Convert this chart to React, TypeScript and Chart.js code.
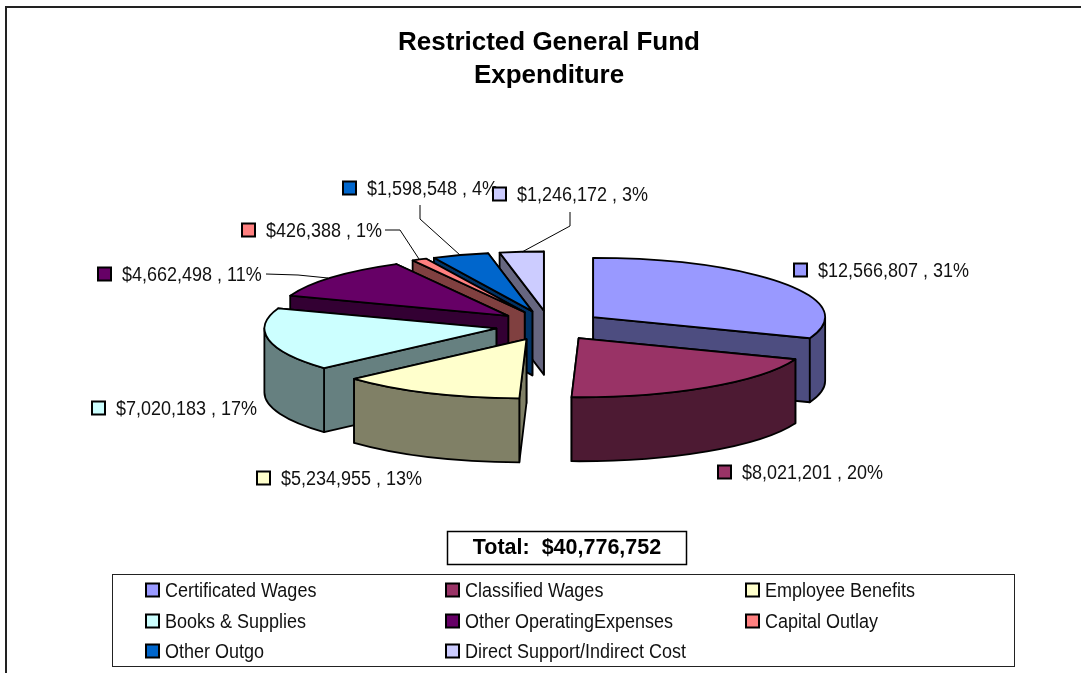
import React, { useEffect, useRef } from "react";
import { Chart, registerables } from "chart.js";

Chart.register(...registerables);

const categories = [
  "Certificated Wages",
  "Classified Wages",
  "Employee Benefits",
  "Books & Supplies",
  "Other OperatingExpenses",
  "Capital Outlay",
  "Other Outgo",
  "Direct Support/Indirect Cost",
];
const values = [12566807, 8021201, 5234955, 7020183, 4662498, 426388, 1598548, 1246172];
const dataLabels = [
  "$12,566,807 , 31%",
  "$8,021,201 , 20%",
  "$5,234,955 , 13%",
  "$7,020,183 , 17%",
  "$4,662,498 , 11%",
  "$426,388 , 1%",
  "$1,598,548 , 4%",
  "$1,246,172 , 3%",
];
const colors = ["#9999FF", "#993366", "#FFFFCC", "#CCFFFF", "#660066", "#FF8080", "#0066CC", "#CCCCFF"];
const sideColors = ["#4D4D80", "#4D1A33", "#808066", "#668080", "#330033", "#804040", "#003366", "#666680"];
const totalText = "Total:  $40,776,752";
const titleLines = ["Restricted General Fund", "Expenditure"];

const SANS = '"Liberation Sans", Arial, sans-serif';
const SQUASH = 0.255;
const DEPTH = 64;
const EXPLODE = 200;
const SHIFT_X = 0.268; // share of the arc offset moved sideways
const SHIFT_Y = 0.075; // share of the arc offset moved up and down
const CENTER_Y = 325.6;
const DRAW_ORDER = [7, 6, 5, 4, 3, 2, 0, 1];

// label anchors: swatch left x, centre y
const labelPos: [number, number][] = [
  [794, 270],
  [718, 472],
  [257, 478],
  [92, 408],
  [98, 274],
  [242, 230],
  [343, 188],
  [493, 194],
];
const leaders: number[][][] = [
  [],
  [],
  [],
  [],
  [[266, 274], [298, 275], [328, 278]],
  [[385, 230], [400, 230], [419, 259]],
  [[420, 205], [420, 219], [460, 255]],
  [[570, 212], [570, 226], [522, 252]],
];
const legendCols = [145, 445, 745];
const legendRows = [590, 621, 651];

function swatch(ctx: CanvasRenderingContext2D, x: number, cy: number, color: string) {
  ctx.fillStyle = color;
  ctx.strokeStyle = "#000";
  ctx.lineWidth = 2;
  ctx.fillRect(x, cy - 6.5, 13, 13);
  ctx.strokeRect(x, cy - 6.5, 13, 13);
}

// Arial-Narrow look: a taller face squeezed sideways to the reference's widths
function narrowText(ctx: CanvasRenderingContext2D, t: string, x: number, y: number) {
  ctx.save();
  ctx.font = `20.5px ${SANS}`;
  ctx.textAlign = "left";
  ctx.textBaseline = "middle";
  ctx.fillStyle = "#111";
  ctx.translate(x, y);
  ctx.scale(18 / 20.5, 1);
  ctx.fillText(t, 0, 0);
  ctx.restore();
}

const pie3d = {
  id: "pie3d",
  beforeDatasetDraw(chart: any, args: any) {
    const ctx: CanvasRenderingContext2D = chart.ctx;
    const arcs = chart.getDatasetMeta(args.index).data;
    ctx.save();
    ctx.lineJoin = "round";
    ctx.lineWidth = 1.8;
    ctx.strokeStyle = "#000";
    for (const i of DRAW_ORDER) {
      const a = arcs[i];
      const p = a.getProps(["x", "y", "startAngle", "endAngle", "outerRadius"], true);
      const mid = (p.startAngle + p.endAngle) / 2;
      const ax = p.x + Math.cos(mid) * a.options.offset * SHIFT_X;
      const ay = CENTER_Y + Math.sin(mid) * a.options.offset * SHIFT_Y;
      const rx = p.outerRadius;
      const ry = rx * SQUASH;
      const px = (t: number) => ax + Math.cos(t) * rx;
      const py = (t: number) => ay + Math.sin(t) * ry;
      const wall = (t: number) => {
        ctx.beginPath();
        ctx.moveTo(ax, ay);
        ctx.lineTo(px(t), py(t));
        ctx.lineTo(px(t), py(t) + DEPTH);
        ctx.lineTo(ax, ay + DEPTH);
        ctx.closePath();
        ctx.fillStyle = sideColors[i];
        ctx.fill();
        ctx.stroke();
      };
      const ordered = Math.sin(p.startAngle) < Math.sin(p.endAngle)
        ? [p.startAngle, p.endAngle]
        : [p.endAngle, p.startAngle];
      ordered.forEach(wall);
      const r0 = Math.max(p.startAngle, 0);
      const r1 = Math.min(p.endAngle, Math.PI);
      if (r1 > r0) {
        ctx.beginPath();
        ctx.ellipse(ax, ay, rx, ry, 0, r0, r1);
        ctx.ellipse(ax, ay + DEPTH, rx, ry, 0, r1, r0, true);
        ctx.closePath();
        ctx.fillStyle = sideColors[i];
        ctx.fill();
        ctx.stroke();
      }
      ctx.beginPath();
      ctx.moveTo(ax, ay);
      ctx.ellipse(ax, ay, rx, ry, 0, p.startAngle, p.endAngle);
      ctx.closePath();
      ctx.fillStyle = a.options.backgroundColor;
      ctx.fill();
      ctx.stroke();
    }
    ctx.restore();
    return false;
  },
  afterDraw(chart: any) {
    const ctx: CanvasRenderingContext2D = chart.ctx;
    ctx.save();
    // outer frame
    ctx.strokeStyle = "#222";
    ctx.lineWidth = 2;
    ctx.beginPath();
    ctx.moveTo(6, 673);
    ctx.lineTo(6, 7);
    ctx.lineTo(1081, 7);
    ctx.stroke();

    // title
    ctx.fillStyle = "#000";
    ctx.font = `bold 26px ${SANS}`;
    ctx.textAlign = "center";
    ctx.textBaseline = "middle";
    titleLines.forEach((t, i) => ctx.fillText(t, 549, 43 + i * 33));

    // leader lines
    ctx.strokeStyle = "#000";
    ctx.lineWidth = 1;
    leaders.forEach((pts) => {
      if (!pts.length) return;
      ctx.beginPath();
      pts.forEach(([x, y], k) => (k ? ctx.lineTo(x, y) : ctx.moveTo(x, y)));
      ctx.stroke();
    });

    // data labels
    dataLabels.forEach((t, i) => {
      const [x, y] = labelPos[i];
      swatch(ctx, x, y, colors[i]);
      narrowText(ctx, t, x + 24, y + 1);
    });

    // total box
    ctx.strokeStyle = "#000";
    ctx.lineWidth = 1.5;
    ctx.fillStyle = "#fff";
    ctx.fillRect(447.5, 531.5, 239, 33);
    ctx.strokeRect(447.5, 531.5, 239, 33);
    ctx.fillStyle = "#000";
    ctx.font = `bold 21.5px ${SANS}`;
    ctx.textAlign = "center";
    ctx.textBaseline = "middle";
    ctx.fillText(totalText, 567, 548);

    // legend box
    ctx.lineWidth = 1;
    ctx.strokeStyle = "#222";
    ctx.fillStyle = "#fff";
    ctx.fillRect(112.5, 574.5, 902, 92);
    ctx.strokeRect(112.5, 574.5, 902, 92);
    categories.forEach((c, i) => {
      const x = legendCols[i % 3];
      const y = legendRows[Math.floor(i / 3)];
      swatch(ctx, x + 1, y, colors[i]);
      narrowText(ctx, c, x + 20, y + 1);
    });
    ctx.restore();
  },
};

export default function App() {
  const ref = useRef<HTMLCanvasElement>(null);
  useEffect(() => {
    document.body.style.margin = "0";
    const chart = new Chart(ref.current!, {
      type: "pie",
      data: {
        labels: categories,
        datasets: [
          {
            data: values,
            backgroundColor: colors,
            borderWidth: 0,
            offset: EXPLODE,
          },
        ],
      },
      plugins: [pie3d],
      options: {
        responsive: false,
        animation: false,
        layout: { padding: { left: 217, right: 200, top: 4, bottom: 5 } },
        plugins: {
          legend: { display: false },
          tooltip: { enabled: false },
          title: { display: false },
        },
      },
    });
    return () => chart.destroy();
  }, []);
  return (
    <canvas
      ref={ref}
      width={1081}
      height={673}
      style={{ display: "block", width: 1081, height: 673 }}
    />
  );
}
